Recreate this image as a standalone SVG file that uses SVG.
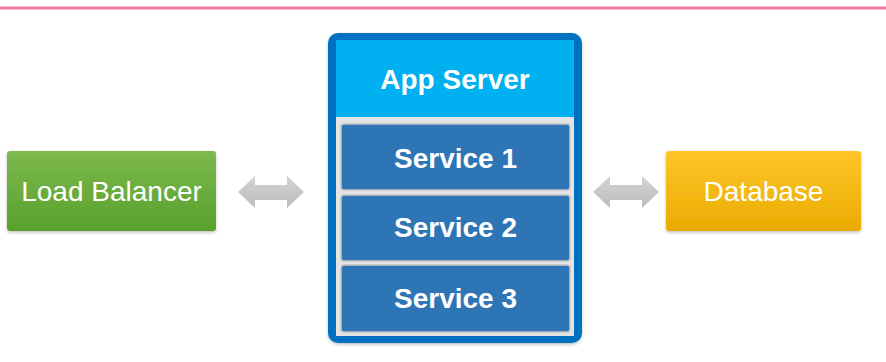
<svg xmlns="http://www.w3.org/2000/svg" width="886" height="362" viewBox="0 0 886 362">
  <defs>
    <linearGradient id="gGreen" x1="0" y1="0" x2="0" y2="1">
      <stop offset="0" stop-color="#7db94e"/>
      <stop offset="1" stop-color="#58a02c"/>
    </linearGradient>
    <linearGradient id="gGold" x1="0" y1="0" x2="0" y2="1">
      <stop offset="0" stop-color="#ffc62a"/>
      <stop offset="1" stop-color="#e9ab00"/>
    </linearGradient>
    <linearGradient id="gArrow" x1="0" y1="0" x2="0" y2="1">
      <stop offset="0" stop-color="#d4d4d4"/>
      <stop offset="1" stop-color="#bcbcbc"/>
    </linearGradient>
    <filter id="shadow" x="-10%" y="-10%" width="120%" height="130%">
      <feDropShadow dx="0" dy="1.5" stdDeviation="1.5" flood-color="#000" flood-opacity="0.25"/>
    </filter>
  </defs>
  <style>
    .label { fill: #ffffff; font-family: "Liberation Sans", Arial, sans-serif; font-size: 28px; text-anchor: middle; }
    .bold { font-weight: bold; }
    .service { fill: #2e75b6; stroke: #c4c4c4; stroke-width: 1.5; }
    .arrow { fill: url(#gArrow); }
  </style>

  <rect width="886" height="362" fill="#ffffff"/>
  <!-- pink rule along the top -->
  <rect x="0" y="6.5" width="886" height="3" fill="#ea7fa1"/>

  <g id="load-balancer">
    <rect x="7" y="151" width="209" height="80" rx="3" fill="url(#gGreen)" filter="url(#shadow)"/>
    <text class="label" x="111.5" y="201">Load Balancer</text>
  </g>

  <g id="app-server">
    <rect x="328" y="33" width="254" height="310" rx="10" fill="#0070c0" filter="url(#shadow)"/>
    <rect x="336" y="40" width="238" height="77" fill="#00b0f0"/>
    <rect x="336" y="117" width="238" height="219" fill="#e4e4e4"/>
    <text class="label bold" x="455" y="89">App Server</text>
  </g>

  <g id="service-1">
    <rect class="service" x="341" y="124" width="229" height="66" rx="3"/>
    <text class="label bold" x="455.5" y="168">Service 1</text>
  </g>
  <g id="service-2">
    <rect class="service" x="341" y="195" width="229" height="66" rx="3"/>
    <text class="label bold" x="455.5" y="237">Service 2</text>
  </g>
  <g id="service-3">
    <rect class="service" x="341" y="265" width="229" height="67" rx="3"/>
    <text class="label bold" x="455.5" y="308">Service 3</text>
  </g>

  <g id="database">
    <rect x="666" y="151" width="195" height="80" rx="3" fill="url(#gGold)" filter="url(#shadow)"/>
    <text class="label" x="763.5" y="201">Database</text>
  </g>

  <g id="connectors">
    <polygon class="arrow" points="238,192 255,176 255,185 287,185 287,176 304,192 287,208 287,200 255,200 255,208"/>
    <polygon class="arrow" points="593,192 610,176 610,185 642,185 642,176 659,192 642,208 642,200 610,200 610,208"/>
  </g>
</svg>
